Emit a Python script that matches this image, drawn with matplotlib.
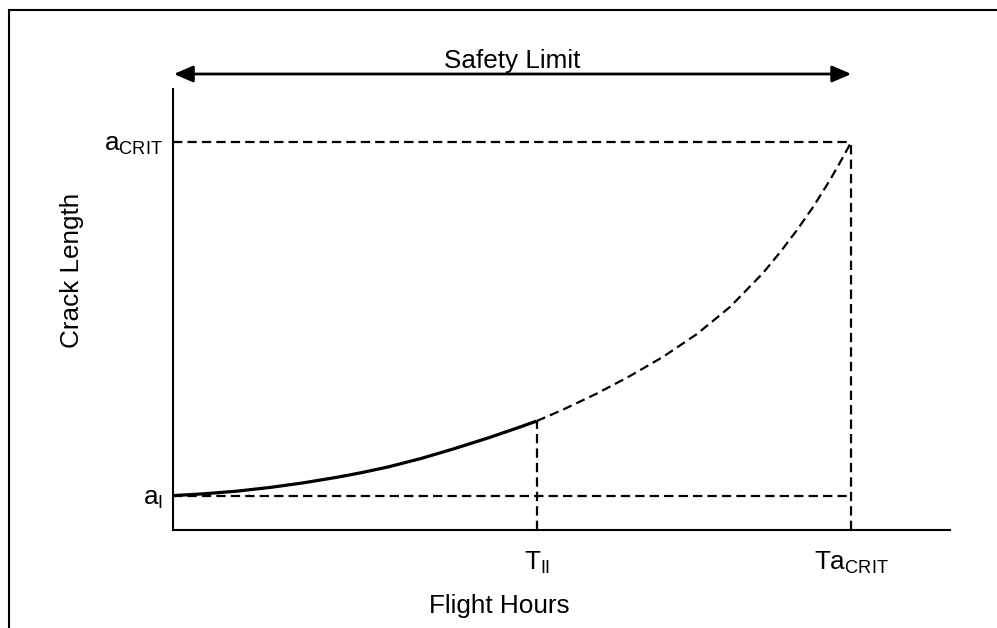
import matplotlib
matplotlib.use('Agg')
import matplotlib.pyplot as plt
from matplotlib.lines import Line2D

plt.rcParams['font.family'] = ['Liberation Sans', 'DejaVu Sans']
plt.rcParams['mathtext.fontset'] = 'custom'
plt.rcParams['mathtext.rm'] = 'Liberation Sans'
plt.rcParams['mathtext.it'] = 'Liberation Sans'
plt.rcParams['mathtext.bf'] = 'Liberation Sans'

# schematic values (axes run 0..100 in both directions)
a_i = 7.8
a_crit = 88.0
t_ii = 46.8
t_crit = 87.3

# measured crack growth (solid) up to T_II
hours_meas = [0.0, 3.9, 8.2, 12.5, 16.8, 21.1, 24.1, 27.7, 32.0, 36.3, 40.6, 44.9, 46.8]
crack_meas = [7.8, 8.2, 8.8, 9.65, 10.7, 11.95, 12.95, 14.3, 16.25, 18.5, 20.9, 23.5, 24.7]

# predicted growth (dashed) from T_II to critical length
hours_pred = [46.8, 50.2, 54.5, 58.8, 63.1, 67.4, 71.7, 75.9, 78.1, 80.3, 82.4, 84.5, 85.8, 87.3]
crack_pred = [24.7, 27.3, 30.9, 34.9, 39.3, 44.4, 50.6, 58.2, 62.9, 68.0, 73.3, 79.2, 83.2, 88.0]

xtick_labels = [r'T$_{\mathrm{II}}$', r'Ta$_{\mathrm{CRIT}}$']
ytick_labels = [r'a$_{\mathrm{I}}$', r'a$_{\mathrm{CRIT}}$']

fs = 18.8

fig = plt.figure(figsize=(9.97, 6.28), dpi=100)
ax = fig.add_axes([173 / 997, 98 / 628, 777 / 997, 441 / 628])

dash = (0, (4.2, 2.3))
lw_d = 1.6
ax.plot([0, t_crit], [a_i, a_i], color='black', lw=lw_d, ls=dash)
ax.plot([0, t_crit], [a_crit, a_crit], color='black', lw=lw_d, ls=dash)
ax.plot([t_ii, t_ii], [0, crack_meas[-1]], color='black', lw=lw_d, ls=dash)
ax.plot([t_crit, t_crit], [0, a_crit], color='black', lw=lw_d, ls=dash)

ax.plot(hours_pred, crack_pred, color='black', lw=lw_d, ls=dash)
ax.plot(hours_meas, crack_meas, color='black', lw=2.3, solid_capstyle='butt')

ax.set_xlim(0, 100)
ax.set_ylim(0, 100)
for s in ['top', 'right']:
    ax.spines[s].set_visible(False)
for s in ['left', 'bottom']:
    ax.spines[s].set_linewidth(1.5)

ax.set_xticks([t_ii, t_crit])
ax.set_xticklabels(xtick_labels, fontsize=fs)
ax.set_yticks([a_i, a_crit])
ax.set_yticklabels(ytick_labels, fontsize=fs)
ax.tick_params(axis='x', length=0, pad=14)
ax.tick_params(axis='y', length=0, pad=7)

# safety limit arrow above the plot
ax.annotate('', xy=(t_crit, 103.4), xytext=(0.1, 103.4), annotation_clip=False,
            arrowprops=dict(arrowstyle='<|-|>,head_length=0.58,head_width=0.25',
                            mutation_scale=20, lw=2, color='black',
                            shrinkA=0, shrinkB=0))
ax.text(t_crit / 2, 104.8, 'Safety Limit', ha='center', va='baseline',
        fontsize=fs, clip_on=False)

fig.text(499 / 997, 15 / 628, 'Flight Hours', ha='center', va='baseline', fontsize=fs)
fig.text(72 / 997, 0.570, 'Crack Length', ha='center', va='center',
         rotation=90, fontsize=fs)

# frame around the figure (cut off at right and bottom)
fx = 9 / 997
fy = 1 - 9.5 / 628
fig.add_artist(Line2D([fx, fx], [0, fy], transform=fig.transFigure, color='black', lw=1.5))
fig.add_artist(Line2D([fx, 1], [fy, fy], transform=fig.transFigure, color='black', lw=1.5))

fig.savefig('out.png', dpi=100)
